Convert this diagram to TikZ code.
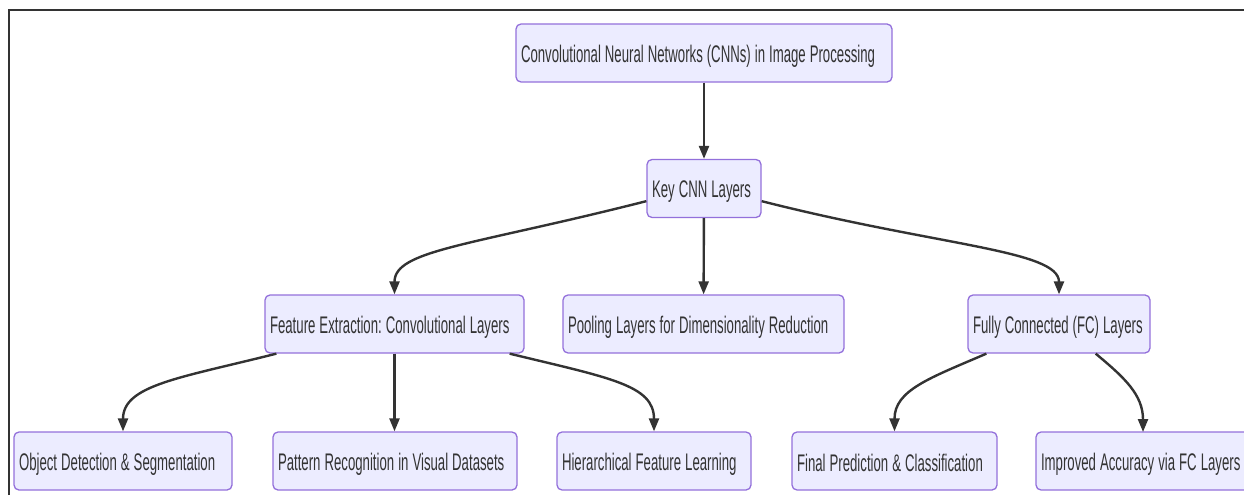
\documentclass[tikz,border=0pt]{standalone}
\usepackage{fontspec}
\setmainfont{Liberation Sans}[FakeStretch=0.55]
\usetikzlibrary{arrows.meta,positioning}

\definecolor{boxfill}{HTML}{ECECFF}
\definecolor{boxline}{HTML}{9370DB}
\definecolor{inkgray}{HTML}{333333}
\newcommand{\boxfont}{\fontsize{24}{28}\selectfont}
\newcommand{\lbl}[1]{\mbox{\frenchspacing\spaceskip=4pt plus 0pt minus 0pt\relax\rule[-3pt]{0pt}{26pt}#1}}

\begin{document}
\begin{tikzpicture}[x=1pt,y=-1pt,
		box/.style={draw=boxline,fill=boxfill,line width=1.3pt,rounded corners=5pt,
			minimum height=58pt,inner xsep=5pt,align=left,text=inkgray,font=\boxfont},
		link/.style={draw=inkgray,line width=2.4pt,-{Triangle[length=13pt,width=10pt]}}]

	\useasboundingbox (0,0) rectangle (1244,495);
	\draw[inkgray,line width=2pt] (8.5,495) -- (8.5,10.5) -- (1244,10.5);

	% top and middle
	\node[box,text width=366pt] (cnn) at (704,53) {\lbl{Convolutional Neural Networks (CNNs) in Image Processing}};
	\node[box,text width=104pt] (key) at (704,188.5) {\lbl{Key CNN Layers}};

	\node[box,text width=249pt] (feat) at (394.5,324) {\lbl{Feature Extraction: Convolutional Layers}};
	\node[box,text width=271pt] (pool) at (703.5,324) {\lbl{Pooling Layers for Dimensionality Reduction}};
	\node[box,text width=172pt] (fc) at (1059,324) {\lbl{Fully Connected (FC) Layers}};

	% bottom row
	\node[box,text width=208pt] (obj) at (123,461) {\lbl{Object Detection \& Segmentation}};
	\node[box,text width=234pt] (pat) at (395,461) {\lbl{Pattern Recognition in Visual Datasets}};
	\node[box,text width=184pt] (hier) at (654,461) {\lbl{Hierarchical Feature Learning}};
	\node[box,text width=195pt] (final) at (894.5,461) {\lbl{Final Prediction \& Classification}};
	\node[box,text width=207pt] (impr) at (1144.5,461) {\lbl{Improved Accuracy via FC Layers}};

	\draw[link] (cnn) -- (key);
	\draw[link] (key.south west) ++(0,-17) .. controls (470,246) and (394.5,250) .. (feat.north);
	\draw[link] (key) -- (pool);
	\draw[link] (key.south east) ++(0,-17) .. controls (938,246) and (1059,250) .. (fc.north);

	\draw[link] (feat.south west) ++(12,0) .. controls (180,378) and (123,385) .. (obj.north);
	\draw[link] (feat.south) -- (pat.north -| feat.south);
	\draw[link] (feat.south east) ++(-15,0) .. controls (610,378) and (654,385) .. (hier.north);

	\draw[link] (fc.south west) ++(19,0) .. controls (930,378) and (894.5,390) .. (final.north);
	\draw[link] (fc.south east) ++(-55,0) .. controls (1125,378) and (1143,395) .. (1143,432);
\end{tikzpicture}
\end{document}
